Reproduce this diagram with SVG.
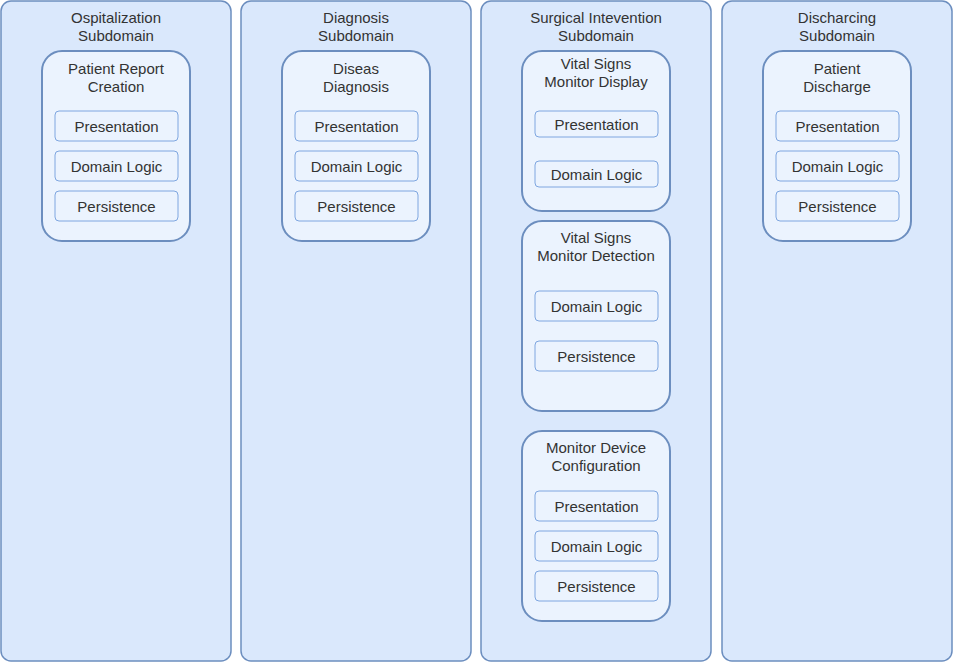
<svg xmlns="http://www.w3.org/2000/svg" width="953" height="662" viewBox="0 0 953 662">
<style>
.sub{fill:#dae8fc;stroke:#6c8ebf;stroke-width:1.5}
.comp{fill:#ebf3fe;stroke:#6c8ebf;stroke-width:2}
.layer{fill:#ebf3fe;stroke:#7ea6e0;stroke-width:1}
text{font-family:"Liberation Sans",Arial,sans-serif;font-size:15px;fill:#333333;text-anchor:middle}
</style>
<rect x="0" y="0" width="953" height="662" fill="#ffffff"/>
<g id="sub-ospitalization">
<rect class="sub" x="1" y="1" width="230" height="660" rx="10"/>
<text x="116" y="22.5">Ospitalization</text><text x="116" y="40.5">Subdomain</text>
</g>
<g id="sub-diagnosis">
<rect class="sub" x="241" y="1" width="230" height="660" rx="10"/>
<text x="356" y="22.5">Diagnosis</text><text x="356" y="40.5">Subdomain</text>
</g>
<g id="sub-surgical">
<rect class="sub" x="481" y="1" width="230" height="660" rx="10"/>
<text x="596" y="22.5">Surgical Intevention</text><text x="596" y="40.5">Subdomain</text>
</g>
<g id="sub-discharging">
<rect class="sub" x="722" y="1" width="230" height="660" rx="10"/>
<text x="837" y="22.5">Discharcing</text><text x="837" y="40.5">Subdomain</text>
</g>

<g id="patient-report-creation">
<rect class="comp" x="42" y="51" width="148" height="190" rx="20"/>
<text x="116" y="73.5">Patient Report</text><text x="116" y="91.5">Creation</text>
<rect class="layer" x="55" y="111" width="123" height="30" rx="4"/><text x="116.5" y="131.5">Presentation</text>
<rect class="layer" x="55" y="151" width="123" height="30" rx="4"/><text x="116.5" y="171.5">Domain Logic</text>
<rect class="layer" x="55" y="191" width="123" height="30" rx="4"/><text x="116.5" y="211.5">Persistence</text>
</g>

<g id="diseas-diagnosis">
<rect class="comp" x="282" y="51" width="148" height="190" rx="20"/>
<text x="356" y="73.5">Diseas</text><text x="356" y="91.5">Diagnosis</text>
<rect class="layer" x="295" y="111" width="123" height="30" rx="4"/><text x="356.5" y="131.5">Presentation</text>
<rect class="layer" x="295" y="151" width="123" height="30" rx="4"/><text x="356.5" y="171.5">Domain Logic</text>
<rect class="layer" x="295" y="191" width="123" height="30" rx="4"/><text x="356.5" y="211.5">Persistence</text>
</g>

<g id="vital-signs-monitor-display">
<rect class="comp" x="522" y="51" width="148" height="160" rx="20"/>
<text x="596" y="69">Vital Signs</text><text x="596" y="87">Monitor Display</text>
<rect class="layer" x="535" y="111" width="123" height="26" rx="4"/><text x="596.5" y="129.5">Presentation</text>
<rect class="layer" x="535" y="161" width="123" height="26" rx="4"/><text x="596.5" y="179.5">Domain Logic</text>
</g>

<g id="vital-signs-monitor-detection">
<rect class="comp" x="522" y="221" width="148" height="190" rx="20"/>
<text x="596" y="243">Vital Signs</text><text x="596" y="261">Monitor Detection</text>
<rect class="layer" x="535" y="291" width="123" height="30" rx="4"/><text x="596.5" y="311.5">Domain Logic</text>
<rect class="layer" x="535" y="341" width="123" height="30" rx="4"/><text x="596.5" y="361.5">Persistence</text>
</g>

<g id="monitor-device-configuration">
<rect class="comp" x="522" y="431" width="148" height="190" rx="20"/>
<text x="596" y="452.5">Monitor Device</text><text x="596" y="470.5">Configuration</text>
<rect class="layer" x="535" y="491" width="123" height="30" rx="4"/><text x="596.5" y="511.5">Presentation</text>
<rect class="layer" x="535" y="531" width="123" height="30" rx="4"/><text x="596.5" y="551.5">Domain Logic</text>
<rect class="layer" x="535" y="571" width="123" height="30" rx="4"/><text x="596.5" y="591.5">Persistence</text>
</g>

<g id="patient-discharge">
<rect class="comp" x="763" y="51" width="148" height="190" rx="20"/>
<text x="837" y="73.5">Patient</text><text x="837" y="91.5">Discharge</text>
<rect class="layer" x="776" y="111" width="123" height="30" rx="4"/><text x="837.5" y="131.5">Presentation</text>
<rect class="layer" x="776" y="151" width="123" height="30" rx="4"/><text x="837.5" y="171.5">Domain Logic</text>
<rect class="layer" x="776" y="191" width="123" height="30" rx="4"/><text x="837.5" y="211.5">Persistence</text>
</g>

<g id="connectors"></g>
</svg>
